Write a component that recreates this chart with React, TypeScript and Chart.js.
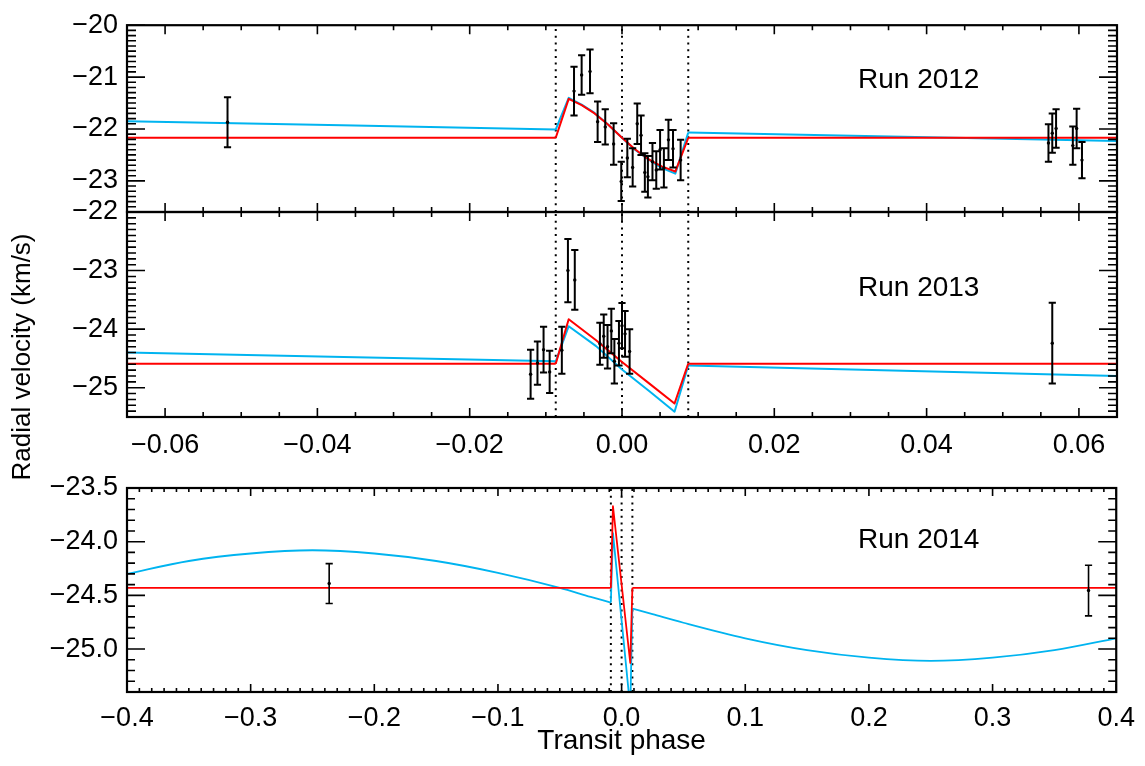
import { useEffect, useRef } from "react";
import { Chart, registerables } from "chart.js";

Chart.register(...registerables);

// ---- Run 2012 (top panel) ----
const phase2012 = [
  -0.0518, -0.0063, -0.0053, -0.0042, -0.0032, -0.0022, -0.0011, -0.0001, 0.0007, 0.0014,
  0.0020, 0.0025, 0.0030, 0.0034, 0.0040, 0.0045, 0.0050, 0.0055, 0.0061, 0.0067, 0.0077,
  0.0560, 0.0565, 0.0570, 0.0592, 0.0597, 0.0604,
];
const rv2012 = [
  -21.87, -21.27, -20.96, -20.89, -21.86, -21.96, -22.29, -23.01, -22.56, -22.74,
  -21.90, -22.12, -22.84, -22.92, -22.63, -22.79, -22.40, -22.75, -22.21, -22.38, -22.60,
  -22.27, -22.08, -21.99, -22.32, -21.99, -22.60,
];
const err2012 = [
  0.48, 0.47, 0.38, 0.42, 0.39, 0.34, 0.40, 0.38, 0.37, 0.37,
  0.39, 0.38, 0.37, 0.40, 0.36, 0.36, 0.38, 0.38, 0.39, 0.36, 0.39,
  0.36, 0.38, 0.37, 0.37, 0.38, 0.35,
];
const modelPhase2012 = [
  -0.065, -0.0087, -0.007, -0.0053, -0.0036, -0.0018, 0.0, 0.0017, 0.0034, 0.0052, 0.007, 0.0087, 0.065,
];
const red2012 = [
  -22.17, -22.17, -21.42, -21.54, -21.7, -21.92, -22.17, -22.39, -22.575, -22.72, -22.82, -22.17, -22.17,
];
const blue2012 = [
  -21.85, -22.01, -21.4, -21.53, -21.69, -21.92, -22.17, -22.4, -22.58, -22.75, -22.86, -22.07, -22.23,
];

// ---- Run 2013 (middle panel) ----
const phase2013 = [
  -0.012, -0.0111, -0.0103, -0.0095, -0.0079, -0.0071, -0.0062, -0.0029, -0.0024, -0.0019,
  -0.0014, -0.001, -0.0004, 0.0, 0.0004, 0.001, 0.0565,
];
const rv2013 = [
  -24.77, -24.58, -24.35, -24.73, -24.36, -23.0, -23.16, -24.25, -24.12, -24.3,
  -24.03, -24.55, -24.24, -23.94, -24.08, -24.38, -24.24,
];
const err2013 = [
  0.42, 0.37, 0.39, 0.36, 0.4, 0.54, 0.51, 0.36, 0.37, 0.37,
  0.38, 0.38, 0.38, 0.385, 0.39, 0.38, 0.69,
];
const modelPhase2013 = [-0.065, -0.0087, -0.007, -0.0034, 0.0, 0.0036, 0.0069, 0.0087, 0.065];
const red2013 = [-24.59, -24.59, -23.83, -24.19, -24.56, -24.93, -25.27, -24.59, -24.59];
const blue2013 = [-24.4, -24.55, -23.95, -24.29, -24.69, -25.06, -25.41, -24.62, -24.8];

// ---- Run 2014 (bottom panel) ----
const phase2014 = [-0.2365, 0.3776];
const rv2014 = [-24.39, -24.455];
const err2014 = [0.186, 0.236];
const redPhase2014 = [-0.4, -0.0087, -0.007, 0.007, 0.0087, 0.4];
const red2014 = [-24.43, -24.43, -23.67, -25.13, -24.43, -24.43];
const bluePhase2014 = [
  -0.4, -0.35, -0.3, -0.25, -0.2, -0.15, -0.1, -0.05, -0.025, -0.0087, -0.007,
  0.007, 0.0087, 0.025, 0.05, 0.1, 0.15, 0.2, 0.25, 0.3, 0.35, 0.4,
];
const blue2014 = [
  -24.3, -24.18, -24.11, -24.08, -24.11, -24.18, -24.29, -24.43, -24.515, -24.567, -23.92,
  -25.55, -24.623, -24.675, -24.755, -24.9, -25.01, -25.08, -25.11, -25.08, -25.01, -24.9,
];

// transit contact / mid-transit markers
const transitMarks = [-0.0087, 0.0, 0.0087];

// axis ticks
const xTicksNarrow = [-0.06, -0.04, -0.02, 0.0, 0.02, 0.04, 0.06];
const xTicksWide = [-0.4, -0.3, -0.2, -0.1, 0.0, 0.1, 0.2, 0.3, 0.4];
const yTicks2012 = [-23, -22, -21, -20];
const yTicks2013 = [-25, -24, -23, -22];
const yTicks2014 = [-25.0, -24.5, -24.0, -23.5];

const W = 1145;
const H = 766;
const PLOT_LEFT = 127;
const PLOT_RIGHT = 1117;
const FONT = "'Liberation Sans', Arial, Helvetica, sans-serif";
const RED = "rgb(255, 0, 0)";
const BLUE = "rgb(0, 180, 240)";

interface PanelSpec {
  top: number;
  bottom: number;
  xAxisHeight: number;
  xMin: number;
  xMax: number;
  xMajor: number[];
  xMinorStep: number;
  xDecimals: number;
  showXLabels: boolean;
  xLabelPad: number;
  xTitle?: string;
  yMin: number;
  yMax: number;
  yMajor: number[];
  yMinorStep: number;
  yDecimals: number;
  xMajorLen: number;
  xMinorLen: number;
  yMajorLen: number;
  yMinorLen: number;
  obsPhase: number[];
  obsRv: number[];
  obsErr: number[];
  errWidth: number;
  redPhase: number[];
  redRv: number[];
  bluePhase: number[];
  blueRv: number[];
  curveWidth: number;
}

const fmt = (v: number, d: number) => (v < -1e-9 ? "\u2212" : "") + Math.abs(v).toFixed(d);
const zip = (xs: number[], ys: number[]) => xs.map((x, i) => ({ x, y: ys[i] }));

function minorValues(min: number, max: number, step: number) {
  const out: number[] = [];
  const n0 = Math.ceil(min / step - 1e-6);
  const n1 = Math.floor(max / step + 1e-6);
  for (let n = n0; n <= n1; n++) out.push(n * step);
  return out;
}

// split a model curve into pre-transit, in-transit and post-transit pieces
function splitModel(xs: number[], ys: number[]) {
  const pts = zip(xs, ys);
  const t1 = transitMarks[0];
  const t4 = transitMarks[2];
  return [
    { pts: pts.filter((p) => p.x <= t1 + 1e-9), smooth: true },
    { pts: pts.filter((p) => p.x >= t1 - 1e-9 && p.x <= t4 + 1e-9), smooth: false },
    { pts: pts.filter((p) => p.x >= t4 - 1e-9), smooth: true },
  ];
}

// IDL-style box with inward ticks on all four sides
function framePlugin(spec: PanelSpec) {
  return {
    id: "idlFrame",
    afterDraw(chart: any) {
      const { ctx, chartArea: a, scales } = chart;
      const x = scales.x;
      const y = scales.y;
      ctx.save();
      ctx.strokeStyle = "#000";
      ctx.lineWidth = 1.6;
      ctx.beginPath();
      const xt = (v: number, len: number) => {
        const px = x.getPixelForValue(v);
        ctx.moveTo(px, a.bottom);
        ctx.lineTo(px, a.bottom - len);
        ctx.moveTo(px, a.top);
        ctx.lineTo(px, a.top + len);
      };
      const yt = (v: number, len: number) => {
        const py = y.getPixelForValue(v);
        ctx.moveTo(a.left, py);
        ctx.lineTo(a.left + len, py);
        ctx.moveTo(a.right, py);
        ctx.lineTo(a.right - len, py);
      };
      minorValues(spec.xMin, spec.xMax, spec.xMinorStep).forEach((v) => xt(v, spec.xMinorLen));
      spec.xMajor.forEach((v) => xt(v, spec.xMajorLen));
      minorValues(spec.yMin, spec.yMax, spec.yMinorStep).forEach((v) => yt(v, spec.yMinorLen));
      spec.yMajor.forEach((v) => yt(v, spec.yMajorLen));
      ctx.stroke();
      ctx.lineWidth = 2.2;
      ctx.strokeRect(a.left, a.top, a.right - a.left, a.bottom - a.top);
      ctx.restore();
    },
  };
}

// vertical error bars with caps, drawn on top of the curves
const errorBarPlugin = {
  id: "errorBars",
  afterDatasetsDraw(chart: any) {
    const { ctx, scales } = chart;
    const x = scales.x;
    const y = scales.y;
    chart.data.datasets.forEach((ds: any) => {
      if (!ds.errors) return;
      ctx.save();
      ctx.strokeStyle = "#000";
      ctx.lineWidth = ds.errWidth;
      ctx.beginPath();
      ds.data.forEach((pt: { x: number; y: number }, i: number) => {
        const px = x.getPixelForValue(pt.x);
        const t = y.getPixelForValue(pt.y + ds.errors[i]);
        const b = y.getPixelForValue(pt.y - ds.errors[i]);
        const cap = 3.6;
        ctx.moveTo(px, t);
        ctx.lineTo(px, b);
        ctx.moveTo(px - cap, t);
        ctx.lineTo(px + cap, t);
        ctx.moveTo(px - cap, b);
        ctx.lineTo(px + cap, b);
      });
      ctx.stroke();
      ctx.restore();
    });
  },
};

function curveDatasets(xs: number[], ys: number[], color: string, width: number) {
  return splitModel(xs, ys).map((seg) => ({
    data: seg.pts,
    showLine: true,
    borderColor: color,
    borderWidth: width,
    borderJoinStyle: "round",
    pointRadius: 0,
    tension: 0,
    cubicInterpolationMode: seg.smooth ? "monotone" : "default",
  }));
}

function buildConfig(spec: PanelSpec): any {
  const datasets: any[] = [
    {
      data: zip(spec.obsPhase, spec.obsRv),
      errors: spec.obsErr,
      errWidth: spec.errWidth,
      pointRadius: 1.7,
      pointBackgroundColor: "#000",
      pointBorderWidth: 0,
      showLine: false,
    },
    ...curveDatasets(spec.redPhase, spec.redRv, RED, spec.curveWidth),
    ...curveDatasets(spec.bluePhase, spec.blueRv, BLUE, spec.curveWidth),
    ...transitMarks.map((m) => ({
      data: [
        { x: m, y: spec.yMin },
        { x: m, y: spec.yMax },
      ],
      showLine: true,
      borderColor: "#000",
      borderWidth: 2,
      borderDash: [2, 4.7],
      pointRadius: 0,
    })),
  ];

  const padBottom = H - spec.bottom - spec.xAxisHeight;

  return {
    type: "scatter",
    data: { datasets },
    plugins: [errorBarPlugin, framePlugin(spec)],
    options: {
      responsive: false,
      animation: false,
      events: [],
      layout: {
        autoPadding: false,
        padding: { left: 0, right: W - PLOT_RIGHT, top: spec.top, bottom: padBottom },
      },
      plugins: { legend: { display: false }, tooltip: { enabled: false } },
      scales: {
        x: {
          type: "linear",
          position: "bottom",
          min: spec.xMin,
          max: spec.xMax,
          grid: { display: false, drawTicks: false },
          border: { display: false },
          ticks: {
            display: spec.showXLabels,
            autoSkip: false,
            maxRotation: 0,
            padding: spec.xLabelPad,
            color: "#000",
            font: { family: FONT, size: 27 },
            callback: (v: any) => fmt(Number(v), spec.xDecimals),
          },
          title: {
            display: !!spec.xTitle,
            text: spec.xTitle || "",
            color: "#000",
            font: { family: FONT, size: 28 },
            padding: { top: 0, bottom: 8 },
          },
          afterBuildTicks: (s: any) => {
            s.ticks = spec.xMajor.map((value) => ({ value }));
          },
          afterFit: (s: any) => {
            s.height = spec.xAxisHeight;
          },
        },
        y: {
          type: "linear",
          position: "left",
          min: spec.yMin,
          max: spec.yMax,
          grid: { display: false, drawTicks: false },
          border: { display: false },
          ticks: {
            autoSkip: false,
            padding: 9,
            color: "#000",
            font: { family: FONT, size: 27 },
            callback: (v: any) => fmt(Number(v), spec.yDecimals),
          },
          afterBuildTicks: (s: any) => {
            s.ticks = spec.yMajor.map((value) => ({ value }));
          },
          afterFit: (s: any) => {
            s.width = PLOT_LEFT;
          },
        },
      },
    },
  };
}

const narrowCommon = {
  xMin: -0.065,
  xMax: 0.065,
  xMajor: xTicksNarrow,
  xMinorStep: 0.005,
  xDecimals: 2,
  yMinorStep: 0.1,
  yDecimals: 0,
  xMajorLen: 9,
  xMinorLen: 5,
  yMajorLen: 18,
  yMinorLen: 9,
  errWidth: 2,
  curveWidth: 2,
};

const panel2012: PanelSpec = {
  ...narrowCommon,
  top: 6,
  bottom: 212,
  xAxisHeight: 0,
  showXLabels: false,
  xLabelPad: 0,
  yMin: -23.6,
  yMax: -20,
  yMajor: yTicks2012,
  obsPhase: phase2012,
  obsRv: rv2012,
  obsErr: err2012,
  redPhase: modelPhase2012,
  redRv: red2012,
  bluePhase: modelPhase2012,
  blueRv: blue2012,
};

const panel2013: PanelSpec = {
  ...narrowCommon,
  top: 212,
  bottom: 417,
  xAxisHeight: 60,
  showXLabels: true,
  xLabelPad: 12,
  yMin: -25.5,
  yMax: -22,
  yMajor: yTicks2013,
  obsPhase: phase2013,
  obsRv: rv2013,
  obsErr: err2013,
  redPhase: modelPhase2013,
  redRv: red2013,
  bluePhase: modelPhase2013,
  blueRv: blue2013,
};

const panel2014: PanelSpec = {
  top: 488,
  bottom: 692,
  xAxisHeight: 74,
  xMin: -0.4,
  xMax: 0.4,
  xMajor: xTicksWide,
  xMinorStep: 0.01,
  xDecimals: 1,
  showXLabels: true,
  xLabelPad: 10,
  xTitle: "Transit phase",
  yMin: -25.4,
  yMax: -23.5,
  yMajor: yTicks2014,
  yMinorStep: 0.1,
  yDecimals: 1,
  xMajorLen: 8,
  xMinorLen: 4,
  yMajorLen: 18,
  yMinorLen: 8,
  obsPhase: phase2014,
  obsRv: rv2014,
  obsErr: err2014,
  errWidth: 1.6,
  redPhase: redPhase2014,
  redRv: red2014,
  bluePhase: bluePhase2014,
  blueRv: blue2014,
  curveWidth: 1.8,
};

function Panel({ spec }: { spec: PanelSpec }) {
  const canvasRef = useRef<HTMLCanvasElement>(null);

  useEffect(() => {
    if (!canvasRef.current) return;
    const chart = new Chart(canvasRef.current, buildConfig(spec));
    return () => {
      chart.destroy();
    };
  }, [spec]);

  return (
    <canvas
      ref={canvasRef}
      width={W}
      height={H}
      style={{ position: "absolute", left: 0, top: 0, width: W, height: H, pointerEvents: "none" }}
    />
  );
}

const runLabel = (top: number): React.CSSProperties => ({
  position: "absolute",
  left: 858,
  top,
  fontFamily: FONT,
  fontSize: 28,
  lineHeight: 1,
  color: "#000",
  whiteSpace: "nowrap",
});

export default function App() {
  return (
    <div style={{ position: "absolute", left: 0, top: 0, width: W, height: H, background: "#fff", overflow: "hidden" }}>
      <Panel spec={panel2012} />
      <Panel spec={panel2013} />
      <Panel spec={panel2014} />
      <div style={runLabel(65)}>Run 2012</div>
      <div style={runLabel(273)}>Run 2013</div>
      <div style={runLabel(525)}>Run 2014</div>
      <div
        style={{
          position: "absolute",
          left: 21 - 200,
          top: 357 - 13,
          width: 400,
          height: 26,
          lineHeight: "26px",
          textAlign: "center",
          fontFamily: FONT,
          fontSize: 26,
          color: "#000",
          transform: "rotate(-90deg)",
          transformOrigin: "50% 50%",
          whiteSpace: "nowrap",
        }}
      >
        Radial velocity (km/s)
      </div>
    </div>
  );
}
